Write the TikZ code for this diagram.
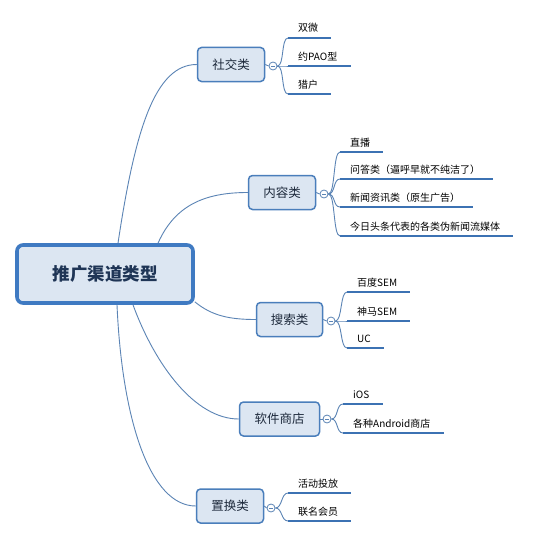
\documentclass[tikz,border=0pt]{standalone}
\usepackage{fontspec}
\setmainfont{Noto Sans CJK SC}
\usetikzlibrary{calc}
\definecolor{boxfill}{HTML}{DCE6F2}
\definecolor{boxdraw}{HTML}{4A7EBB}
\definecolor{rootdraw}{HTML}{3F7AC2}
\definecolor{conncol}{HTML}{5B84B5}
\definecolor{leafcol}{HTML}{3C72B3}
\definecolor{roottext}{HTML}{1F3556}
\definecolor{nodetext}{HTML}{1E2A3C}
\tikzset{
  rootbox/.style={draw=rootdraw, line width=3.6pt, fill=boxfill, rounded corners=6pt,
    minimum width=176pt, minimum height=58pt, inner sep=0pt,
    font=\fontsize{17.5}{20}\selectfont\bfseries, text=roottext},
  catbox/.style={draw=boxdraw, line width=1.5pt, fill=boxfill, rounded corners=4pt,
    minimum height=34pt, inner sep=0pt, font=\fontsize{12.5}{15}\selectfont, text=nodetext},
  foldc/.style={circle, draw=conncol, line width=0.8pt, fill=white, minimum size=8pt, inner sep=0pt,
    path picture={\draw[conncol, line width=0.7pt] ([xshift=-2pt]path picture bounding box.center) -- ([xshift=2pt]path picture bounding box.center);}},
  leaftext/.style={inner sep=0pt, font=\fontsize{10}{12}\selectfont, text=black},
  leafline/.style={draw=leafcol, line width=2.6pt},
  conn/.style={draw=conncol, line width=0.9pt},
}
\newcommand{\mkleaf}[5]{%
  \node[leaftext, anchor=base west] (#1) at (#2+10, #3-6) {#4};
  \coordinate (#1s) at ([xshift=-10pt,yshift=-6pt]#1.base west);
  \draw[leafline] (#1s) -- ([xshift=13pt,yshift=-6pt]#1.base east);
  \draw[conn] (#5.east) .. controls +(7,0) and +(-7,0) .. (#1s);}
\begin{document}
\begin{tikzpicture}[x=1pt,y=-1pt]
\useasboundingbox[fill=white] (0,0) rectangle (536,551);

% root
\node[rootbox] (root) at (105,274) {推广渠道类型};

% categories
\node[catbox, minimum width=67pt] (c1) at (231,64.5) {社交类};
\node[catbox, minimum width=67pt] (c2) at (282,192.5) {内容类};
\node[catbox, minimum width=66pt] (c3) at (289.5,319.5) {搜索类};
\node[catbox, minimum width=80pt] (c4) at (279.5,419) {软件商店};
\node[catbox, minimum width=67pt] (c5) at (230,506) {置换类};

% fold circles
\node[foldc] (f1) at (273,66) {};
\node[foldc] (f2) at (324,194) {};
\node[foldc] (f3) at (331,321) {};
\node[foldc] (f4) at (327,419) {};
\node[foldc] (f5) at (271,508) {};
\foreach \i in {1,...,5} {\draw[conn] (c\i.east) -- (f\i.west);}

% main connectors
\coordinate (r1) at ([xshift=13pt]root.north);
\coordinate (r2) at ([xshift=53pt]root.north);
\coordinate (r3) at ([yshift=3pt]root.south east);
\coordinate (r4) at ([xshift=28pt]root.south);
\coordinate (r5) at ([xshift=12pt]root.south);
\draw[conn] (r1) .. controls (135,130) and (155,64.5) .. (c1.west);
\draw[conn] (r2) .. controls (175,205) and (205,192.5) .. (c2.west);
\draw[conn] (r3) .. controls (212,316) and (230,319.5) .. (c3.west);
\draw[conn] (r4) .. controls (155,365) and (195,419) .. (c4.west);
\draw[conn] (r5) .. controls (122,420) and (150,506) .. (c5.west);

% leaves
\mkleaf{a1}{288}{38}{双微}{f1}
\mkleaf{a2}{288}{66}{约PAO型}{f1}
\mkleaf{a3}{288}{94}{猎户}{f1}

\mkleaf{b1}{340}{152}{直播}{f2}
\mkleaf{b2}{340}{179}{问答类（逼呼早就不纯洁了）}{f2}
\mkleaf{b3}{340}{207}{新闻资讯类（原生广告）}{f2}
\mkleaf{b4}{340}{236}{今日头条代表的各类伪新闻流媒体}{f2}

\mkleaf{d1}{347}{292}{百度SEM}{f3}
\mkleaf{d2}{347}{321}{神马SEM}{f3}
\mkleaf{d3}{347}{348}{UC}{f3}

\mkleaf{e1}{343}{404}{iOS}{f4}
\mkleaf{e2}{343}{433}{各种Android商店}{f4}

\mkleaf{g1}{288}{493}{活动投放}{f5}
\mkleaf{g2}{288}{521}{联名会员}{f5}
\end{tikzpicture}
\end{document}
